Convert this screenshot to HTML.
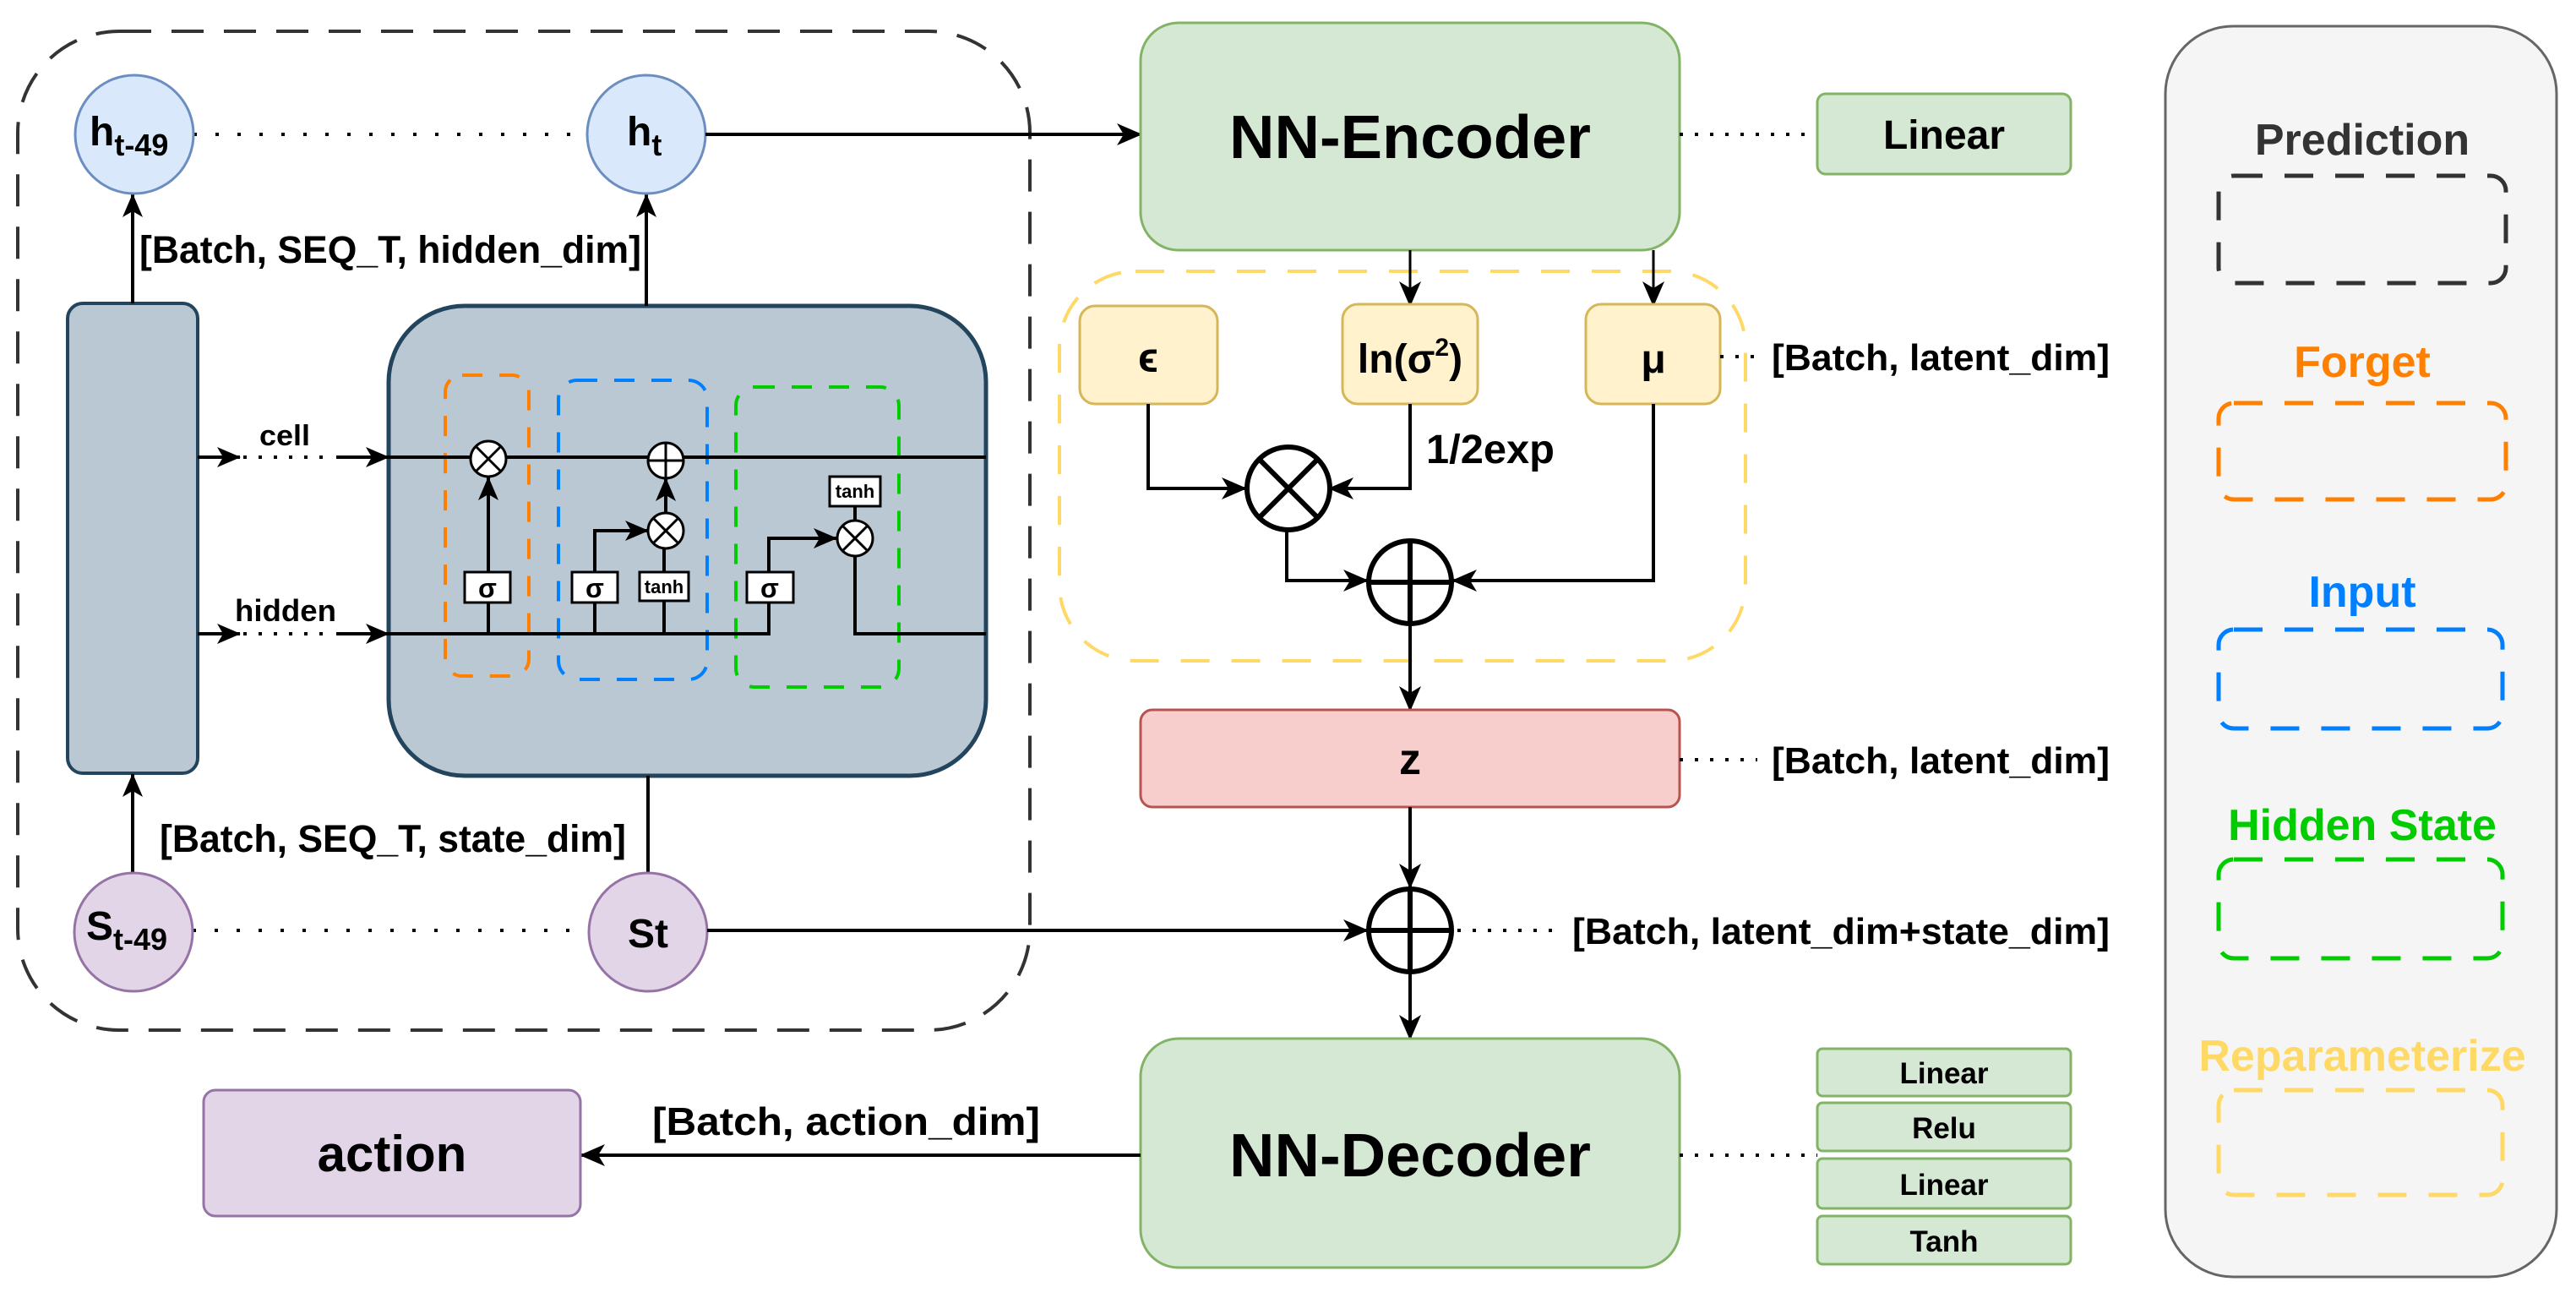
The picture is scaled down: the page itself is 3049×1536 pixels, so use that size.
<!DOCTYPE html>
<html><head><meta charset="utf-8"><style>
html,body{margin:0;padding:0;background:#fff}
svg{display:block}
text{font-family:"Liberation Sans",sans-serif;font-weight:bold}
</style></head><body>
<svg width="3049" height="1536" viewBox="0 0 3049 1536" xmlns="http://www.w3.org/2000/svg">
<defs>
<marker id="b" viewBox="0 0 30 30" refX="28" refY="15" markerWidth="30" markerHeight="30" orient="auto" markerUnits="userSpaceOnUse">
<path d="M0,2 L30,15 L0,28 L8,15 Z" fill="#000"/>
</marker>
<marker id="s" viewBox="0 0 28 28" refX="27" refY="14" markerWidth="28" markerHeight="28" orient="auto" markerUnits="userSpaceOnUse">
<path d="M0,2 L28,14 L0,26 L7,14 Z" fill="#000"/>
</marker>
</defs>

<rect x="21" y="37" width="1198" height="1182" rx="120" fill="none" stroke="#333" stroke-width="4" stroke-dasharray="38,24"/>

<rect x="80" y="359" width="154" height="556" rx="18" fill="#bac8d3" stroke="#23445d" stroke-width="4"/>
<rect x="460" y="362" width="707" height="556" rx="90" fill="#bac8d3" stroke="#23445d" stroke-width="5"/>

<rect x="527" y="444" width="99" height="356" rx="20" fill="none" stroke="#ff8000" stroke-width="4" stroke-dasharray="24,20"/>
<rect x="661" y="450" width="176" height="354" rx="22" fill="none" stroke="#007fff" stroke-width="4" stroke-dasharray="24,20"/>
<rect x="871" y="458" width="193" height="355" rx="22" fill="none" stroke="#00cc00" stroke-width="4" stroke-dasharray="24,20"/>

<line x1="460" y1="541" x2="1167" y2="541" stroke="#000" stroke-width="4"/>
<polyline points="460,750 910,750 910,637 990,637" fill="none" stroke="#000" stroke-width="4" marker-end="url(#s)"/>
<polyline points="1012,658 1012,750 1167,750" fill="none" stroke="#000" stroke-width="4"/>
<line x1="578" y1="750" x2="578" y2="713" stroke="#000" stroke-width="4"/>
<line x1="578" y1="677" x2="578" y2="565" stroke="#000" stroke-width="4" marker-end="url(#s)"/>
<line x1="704" y1="750" x2="704" y2="713" stroke="#000" stroke-width="4"/>
<polyline points="704,677 704,628 767,628" fill="none" stroke="#000" stroke-width="4" marker-end="url(#s)"/>
<line x1="786" y1="750" x2="786" y2="711" stroke="#000" stroke-width="4"/>
<line x1="786" y1="677" x2="786" y2="650" stroke="#000" stroke-width="4"/>
<line x1="788" y1="607" x2="788" y2="566" stroke="#000" stroke-width="4" marker-end="url(#s)"/>
<line x1="1012" y1="616" x2="1012" y2="599" stroke="#000" stroke-width="4"/>

<g stroke="#000" stroke-width="3" fill="#fff">
<circle cx="578" cy="543" r="21"/><path d="M563,528 L593,558 M593,528 L563,558"/>
<circle cx="788" cy="545" r="21"/><path d="M767,545 L809,545 M788,524 L788,566"/>
<circle cx="788" cy="628" r="21"/><path d="M773,613 L803,643 M803,613 L773,643"/>
<circle cx="1012" cy="637" r="21"/><path d="M997,622 L1027,652 M1027,622 L997,652"/>
</g>
<g stroke="#000" stroke-width="3" fill="#fff">
<rect x="550" y="677" width="54" height="36"/>
<rect x="677" y="677" width="54" height="36"/>
<rect x="757" y="677" width="58" height="34"/>
<rect x="884" y="677" width="55" height="36"/>
<rect x="982" y="564" width="60" height="35"/>
</g>
<g font-size="32" text-anchor="middle">
<text x="577" y="707">σ</text><text x="704" y="707">σ</text><text x="911" y="707">σ</text>
</g>
<g font-size="22" text-anchor="middle">
<text x="786" y="702">tanh</text>
<text x="1012" y="589">tanh</text>
</g>

<line x1="234" y1="541" x2="284" y2="541" stroke="#000" stroke-width="4" marker-end="url(#s)"/>
<line x1="288" y1="541" x2="396" y2="541" stroke="#000" stroke-width="4" stroke-dasharray="4,14"/>
<line x1="398" y1="541" x2="460" y2="541" stroke="#000" stroke-width="4" marker-end="url(#s)"/>
<line x1="234" y1="750" x2="284" y2="750" stroke="#000" stroke-width="4" marker-end="url(#s)"/>
<line x1="288" y1="750" x2="396" y2="750" stroke="#000" stroke-width="4" stroke-dasharray="4,14"/>
<line x1="398" y1="750" x2="460" y2="750" stroke="#000" stroke-width="4" marker-end="url(#s)"/>
<text x="337" y="527" font-size="34" text-anchor="middle" textLength="60" lengthAdjust="spacingAndGlyphs">cell</text>
<text x="338" y="735" font-size="36" text-anchor="middle" textLength="120" lengthAdjust="spacingAndGlyphs">hidden</text>

<line x1="157" y1="359" x2="157" y2="230" stroke="#000" stroke-width="4" marker-end="url(#s)"/>
<line x1="765" y1="362" x2="765" y2="230" stroke="#000" stroke-width="4" marker-end="url(#s)"/>
<line x1="157" y1="1032" x2="157" y2="916" stroke="#000" stroke-width="4" marker-end="url(#s)"/>
<line x1="767" y1="1032" x2="767" y2="918" stroke="#000" stroke-width="4"/>

<text x="165" y="311" font-size="45" textLength="594" lengthAdjust="spacingAndGlyphs">[Batch, SEQ_T, hidden_dim]</text>
<text x="189" y="1008" font-size="45" textLength="552" lengthAdjust="spacingAndGlyphs">[Batch, SEQ_T, state_dim]</text>

<line x1="229" y1="159" x2="695" y2="159" stroke="#000" stroke-width="4" stroke-dasharray="4,22"/>
<line x1="228" y1="1101" x2="697" y2="1101" stroke="#000" stroke-width="4" stroke-dasharray="4,22"/>
<circle cx="159" cy="159" r="70" fill="#dae8fc" stroke="#6c8ebf" stroke-width="3"/>
<circle cx="765" cy="159" r="70" fill="#dae8fc" stroke="#6c8ebf" stroke-width="3"/>
<circle cx="158" cy="1103" r="70" fill="#e1d5e7" stroke="#9673a6" stroke-width="3"/>
<circle cx="767" cy="1103" r="70" fill="#e1d5e7" stroke="#9673a6" stroke-width="3"/>
<text x="106" y="172" font-size="48">h<tspan font-size="36" dy="12">t-49</tspan></text>
<text x="742" y="172" font-size="48">h<tspan font-size="36" dy="12">t</tspan></text>
<text x="102" y="1112" font-size="48">S<tspan font-size="36" dy="12">t-49</tspan></text>
<text x="767" y="1121" font-size="48" text-anchor="middle">St</text>

<line x1="835" y1="159" x2="1350" y2="159" stroke="#000" stroke-width="4" marker-end="url(#b)"/>
<line x1="837" y1="1101" x2="1618" y2="1101" stroke="#000" stroke-width="4" marker-end="url(#b)"/>

<rect x="1350" y="27" width="638" height="269" rx="45" fill="#d5e8d4" stroke="#82b366" stroke-width="3"/>
<text x="1669" y="187" font-size="72" text-anchor="middle" textLength="428" lengthAdjust="spacingAndGlyphs">NN-Encoder</text>
<line x1="1988" y1="159" x2="2151" y2="159" stroke="#000" stroke-width="4" stroke-dasharray="4,14"/>
<rect x="2151" y="111" width="300" height="95" rx="10" fill="#d5e8d4" stroke="#82b366" stroke-width="3"/>
<text x="2301" y="176" font-size="48" text-anchor="middle">Linear</text>

<rect x="1254" y="321" width="812" height="461" rx="90" fill="none" stroke="#ffd966" stroke-width="4" stroke-dasharray="34,26"/>
<line x1="1669" y1="296" x2="1669" y2="361" stroke="#000" stroke-width="3" marker-end="url(#b)"/>
<line x1="1957" y1="296" x2="1957" y2="361" stroke="#000" stroke-width="3" marker-end="url(#b)"/>
<g fill="#fff2cc" stroke="#d6b656" stroke-width="3">
<rect x="1278" y="362" width="163" height="116" rx="18"/>
<rect x="1589" y="360" width="160" height="118" rx="18"/>
<rect x="1877" y="360" width="159" height="118" rx="18"/>
</g>
<text x="1359" y="440" font-size="50" text-anchor="middle">ϵ</text>
<text x="1669" y="441" font-size="48" text-anchor="middle">ln(σ<tspan font-size="30" dy="-20">2</tspan><tspan dy="20">)</tspan></text>
<text x="1957" y="441" font-size="48" text-anchor="middle">μ</text>
<line x1="2036" y1="422" x2="2090" y2="422" stroke="#000" stroke-width="4" stroke-dasharray="4,14"/>
<text x="2097" y="438" font-size="44" textLength="400" lengthAdjust="spacingAndGlyphs">[Batch, latent_dim]</text>

<polyline points="1359,478 1359,578 1474,578" fill="none" stroke="#000" stroke-width="4" marker-end="url(#b)"/>
<polyline points="1669,478 1669,578 1574,578" fill="none" stroke="#000" stroke-width="4" marker-end="url(#b)"/>
<text x="1688" y="548" font-size="48" textLength="152" lengthAdjust="spacingAndGlyphs">1/2exp</text>
<polyline points="1523,628 1523,687 1618,687" fill="none" stroke="#000" stroke-width="4" marker-end="url(#b)"/>
<polyline points="1957,478 1957,687 1720,687" fill="none" stroke="#000" stroke-width="4" marker-end="url(#b)"/>
<g stroke="#000" stroke-width="6" fill="#fff">
<circle cx="1525" cy="578" r="49"/><path d="M1490,543 L1560,613 M1560,543 L1490,613" fill="none"/>
<circle cx="1669" cy="689" r="49"/><path d="M1620,689 L1718,689 M1669,640 L1669,738" fill="none"/>
</g>
<line x1="1669" y1="738" x2="1669" y2="840" stroke="#000" stroke-width="4" marker-end="url(#b)"/>

<rect x="1350" y="840" width="638" height="115" rx="14" fill="#f8cecc" stroke="#b85450" stroke-width="3"/>
<text x="1669" y="916" font-size="52" text-anchor="middle">z</text>
<line x1="1988" y1="899" x2="2080" y2="899" stroke="#000" stroke-width="4" stroke-dasharray="4,14"/>
<text x="2097" y="915" font-size="44" textLength="400" lengthAdjust="spacingAndGlyphs">[Batch, latent_dim]</text>

<line x1="1669" y1="955" x2="1669" y2="1050" stroke="#000" stroke-width="4" marker-end="url(#b)"/>
<g stroke="#000" stroke-width="6" fill="#fff">
<circle cx="1669" cy="1101" r="49"/><path d="M1620,1101 L1718,1101 M1669,1052 L1669,1150" fill="none"/>
</g>
<line x1="1669" y1="1150" x2="1669" y2="1229" stroke="#000" stroke-width="4" marker-end="url(#b)"/>
<line x1="1725" y1="1101" x2="1845" y2="1101" stroke="#000" stroke-width="4" stroke-dasharray="4,14"/>
<text x="1861" y="1117" font-size="44" textLength="636" lengthAdjust="spacingAndGlyphs">[Batch, latent_dim+state_dim]</text>

<rect x="1350" y="1229" width="638" height="271" rx="45" fill="#d5e8d4" stroke="#82b366" stroke-width="3"/>
<text x="1669" y="1392" font-size="72" text-anchor="middle" textLength="428" lengthAdjust="spacingAndGlyphs">NN-Decoder</text>
<line x1="1988" y1="1367" x2="2151" y2="1367" stroke="#000" stroke-width="4" stroke-dasharray="4,14"/>
<g fill="#d5e8d4" stroke="#82b366" stroke-width="3">
<rect x="2151" y="1241" width="300" height="56" rx="6"/>
<rect x="2151" y="1305" width="300" height="57" rx="6"/>
<rect x="2151" y="1371" width="300" height="59" rx="6"/>
<rect x="2151" y="1439" width="300" height="57" rx="6"/>
</g>
<g font-size="35" text-anchor="middle">
<text x="2301" y="1282">Linear</text>
<text x="2301" y="1347">Relu</text>
<text x="2301" y="1414">Linear</text>
<text x="2301" y="1481">Tanh</text>
</g>

<line x1="1350" y1="1367" x2="688" y2="1367" stroke="#000" stroke-width="4" marker-end="url(#b)"/>
<text x="772" y="1343" font-size="46" textLength="459" lengthAdjust="spacingAndGlyphs">[Batch, action_dim]</text>
<rect x="241" y="1290" width="446" height="149" rx="14" fill="#e1d5e7" stroke="#9673a6" stroke-width="3"/>
<text x="464" y="1386" font-size="60" text-anchor="middle">action</text>

<rect x="2563" y="31" width="463" height="1480" rx="80" fill="#f5f5f5" stroke="#666" stroke-width="3"/>
<g font-size="52" text-anchor="middle">
<text x="2796" y="183" fill="#333">Prediction</text>
<text x="2796" y="446" fill="#ff8000">Forget</text>
<text x="2796" y="718" fill="#007fff">Input</text>
<text x="2796" y="994" fill="#00cc00">Hidden State</text>
<text x="2796" y="1267" fill="#ffd966">Reparameterize</text>
</g>
<g fill="none" stroke-width="5" stroke-dasharray="34,26">
<rect x="2626" y="208" width="340" height="127" rx="18" stroke="#333"/>
<rect x="2626" y="477" width="340" height="114" rx="18" stroke="#ff8000"/>
<rect x="2626" y="745" width="336" height="117" rx="18" stroke="#007fff"/>
<rect x="2626" y="1017" width="336" height="117" rx="18" stroke="#00cc00"/>
<rect x="2626" y="1290" width="336" height="124" rx="18" stroke="#ffd966"/>
</g>
</svg>
</body></html>
